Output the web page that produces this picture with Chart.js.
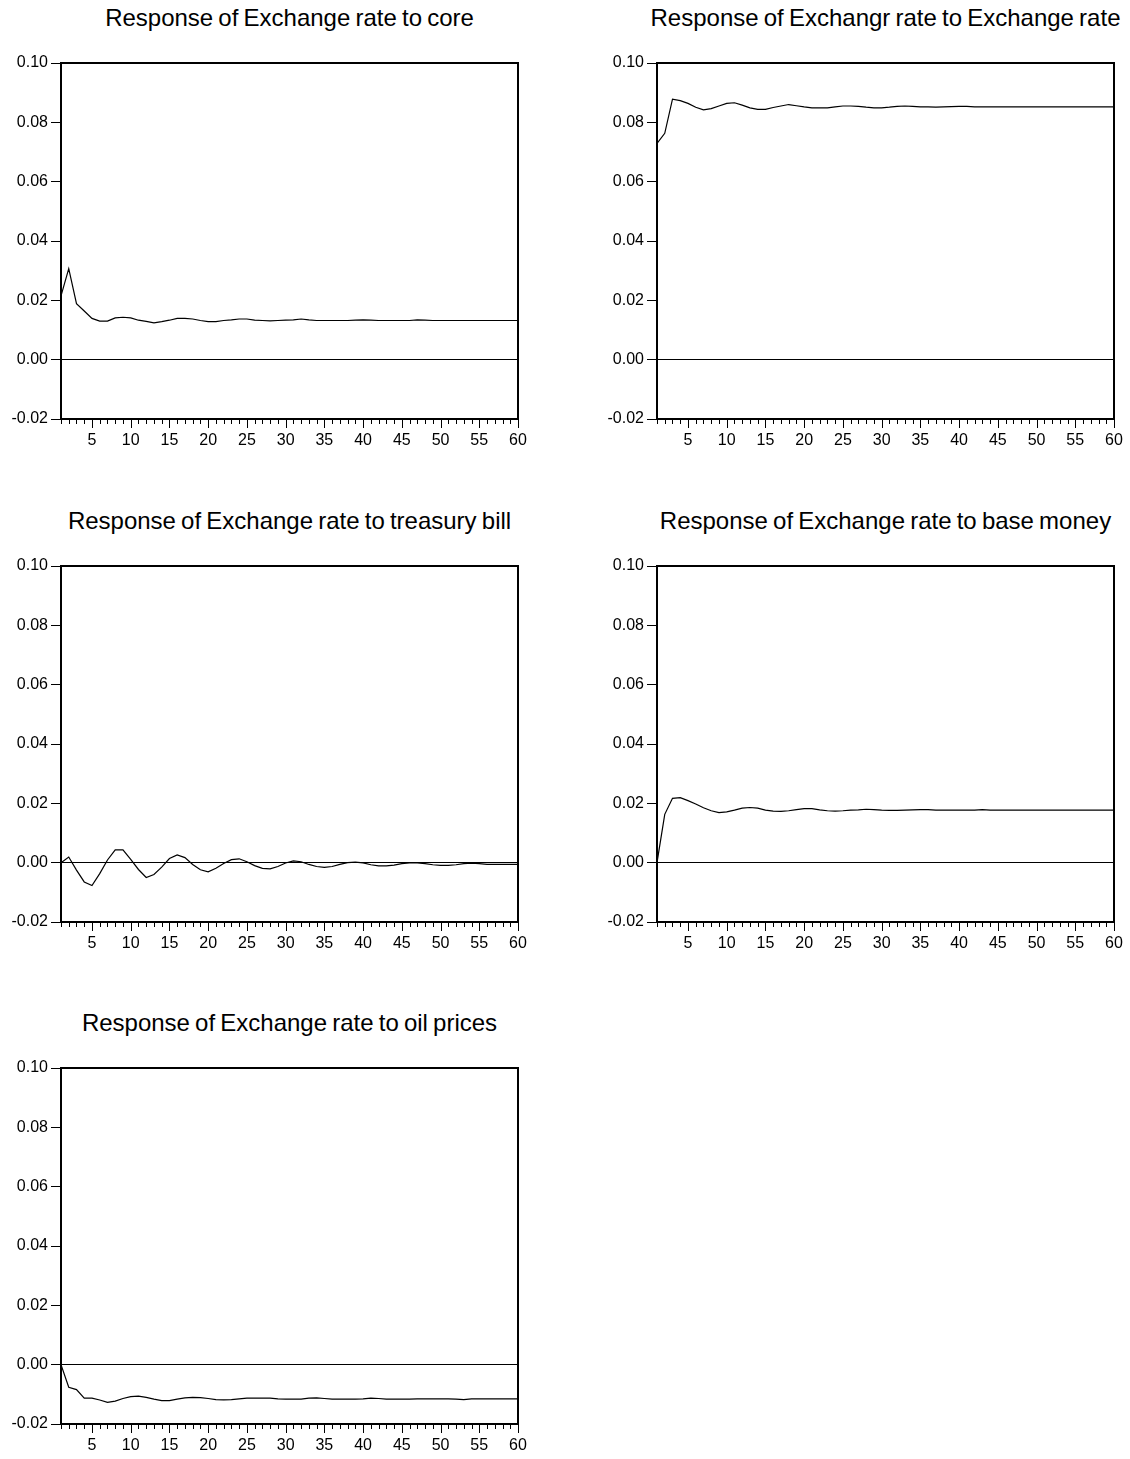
<!DOCTYPE html>
<html>
<head>
<meta charset="utf-8">
<script src="https://cdn.jsdelivr.net/npm/chart.js@4.4.1/dist/chart.umd.min.js"></script>
<style>
  body { margin: 0; background: #fff; width: 1130px; height: 1459px; position: relative; overflow: hidden;
         font-family: "Liberation Sans", Arial, sans-serif; }
  .panel-title { position: absolute; font-size: 24px; line-height: 24px; white-space: nowrap;
                 text-align: center; color: #000; word-spacing: -1.5px; }
  canvas { position: absolute; }
</style>
</head>
<body>
<script>
// Impulse responses of the exchange rate, periods 1..60
const periods = [1, 2, 3, 4, 5, 6, 7, 8, 9, 10, 11, 12, 13, 14, 15, 16, 17, 18, 19, 20,
  21, 22, 23, 24, 25, 26, 27, 28, 29, 30, 31, 32, 33, 34, 35, 36, 37, 38, 39, 40,
  41, 42, 43, 44, 45, 46, 47, 48, 49, 50, 51, 52, 53, 54, 55, 56, 57, 58, 59, 60];
const yTicks = [-0.02, 0.00, 0.02, 0.04, 0.06, 0.08, 0.10];
const xLabelStep = 5;

const toCore = [0.0215, 0.0307, 0.0189, 0.0164, 0.0139, 0.0130, 0.0130, 0.0141, 0.0143, 0.0141,
  0.0133, 0.0129, 0.0124, 0.0128, 0.0133, 0.0139, 0.0139, 0.0137, 0.0132, 0.0128,
  0.0128, 0.0132, 0.0134, 0.0137, 0.0137, 0.0133, 0.0132, 0.0131, 0.0132, 0.0133,
  0.0134, 0.0137, 0.0134, 0.0132, 0.0132, 0.0132, 0.0132, 0.0132, 0.0133, 0.0134,
  0.0133, 0.0132, 0.0132, 0.0132, 0.0132, 0.0132, 0.0134, 0.0133, 0.0132, 0.0132,
  0.0132, 0.0132, 0.0132, 0.0132, 0.0132, 0.0132, 0.0132, 0.0132, 0.0132, 0.0132];

const toExchangeRate = [0.0729, 0.0763, 0.0878, 0.0873, 0.0864, 0.0851, 0.0842, 0.0846, 0.0855, 0.0864,
  0.0866, 0.0858, 0.0849, 0.0844, 0.0844, 0.0850, 0.0855, 0.0860, 0.0856, 0.0852,
  0.0849, 0.0849, 0.0849, 0.0852, 0.0855, 0.0855, 0.0854, 0.0851, 0.0849, 0.0849,
  0.0851, 0.0854, 0.0855, 0.0854, 0.0852, 0.0852, 0.0851, 0.0852, 0.0853, 0.0854,
  0.0854, 0.0852, 0.0852, 0.0852, 0.0852, 0.0852, 0.0852, 0.0852, 0.0852, 0.0852,
  0.0852, 0.0852, 0.0852, 0.0852, 0.0852, 0.0852, 0.0852, 0.0852, 0.0852, 0.0852];

const toTreasuryBill = [0.0000, 0.0019, -0.0025, -0.0065, -0.0077, -0.0037, 0.0009, 0.0043, 0.0043, 0.0011,
  -0.0023, -0.0050, -0.0040, -0.0015, 0.0014, 0.0026, 0.0017, -0.0006, -0.0024, -0.0031,
  -0.0019, -0.0003, 0.0010, 0.0013, 0.0003, -0.0010, -0.0019, -0.0021, -0.0013, -0.0001,
  0.0006, 0.0003, -0.0006, -0.0013, -0.0016, -0.0013, -0.0006, 0.0000, 0.0002, -0.0001,
  -0.0007, -0.0011, -0.0011, -0.0008, -0.0003, -0.0001, -0.0001, -0.0003, -0.0007, -0.0009,
  -0.0009, -0.0007, -0.0003, -0.0002, -0.0003, -0.0006, -0.0006, -0.0006, -0.0006, -0.0006];

const toBaseMoney = [0.0000, 0.0163, 0.0217, 0.0219, 0.0209, 0.0198, 0.0185, 0.0175, 0.0169, 0.0171,
  0.0177, 0.0184, 0.0186, 0.0184, 0.0177, 0.0174, 0.0173, 0.0175, 0.0179, 0.0182,
  0.0182, 0.0178, 0.0175, 0.0174, 0.0175, 0.0177, 0.0178, 0.0180, 0.0179, 0.0177,
  0.0176, 0.0176, 0.0177, 0.0178, 0.0179, 0.0179, 0.0177, 0.0177, 0.0177, 0.0177,
  0.0177, 0.0177, 0.0179, 0.0177, 0.0177, 0.0177, 0.0177, 0.0177, 0.0177, 0.0177,
  0.0177, 0.0177, 0.0177, 0.0177, 0.0177, 0.0177, 0.0177, 0.0177, 0.0177, 0.0177];

const toOilPrices = [0.0000, -0.0076, -0.0084, -0.0113, -0.0113, -0.0119, -0.0127, -0.0123, -0.0114, -0.0108,
  -0.0106, -0.0110, -0.0116, -0.0121, -0.0121, -0.0116, -0.0112, -0.0110, -0.0111, -0.0114,
  -0.0118, -0.0119, -0.0118, -0.0115, -0.0113, -0.0113, -0.0113, -0.0113, -0.0115, -0.0116,
  -0.0116, -0.0116, -0.0113, -0.0112, -0.0114, -0.0116, -0.0116, -0.0116, -0.0116, -0.0115,
  -0.0113, -0.0114, -0.0116, -0.0116, -0.0116, -0.0116, -0.0115, -0.0115, -0.0115, -0.0115,
  -0.0115, -0.0116, -0.0118, -0.0115, -0.0115, -0.0115, -0.0115, -0.0115, -0.0115, -0.0115];

// grid of panels: plot-area corner in page pixels
const PLOT_W = 457, PLOT_H = 356;
const AXIS_W = 61, AXIS_H = 40, PAD_TOP = 14, PAD_RIGHT = 26;
const panels = [
  { title: 'Response of Exchange rate to core', values: toCore, left: 61, top: 63 },
  { title: 'Response of Exchangr rate to Exchange rate', values: toExchangeRate, left: 657, top: 63 },
  { title: 'Response of Exchange rate to treasury bill', values: toTreasuryBill, left: 61, top: 566 },
  { title: 'Response of Exchange rate to base money', values: toBaseMoney, left: 657, top: 566 },
  { title: 'Response of Exchange rate to oil prices', values: toOilPrices, left: 61, top: 1068 }
];

const font = { family: '"Liberation Sans", Arial, sans-serif' };

// box around the plot plus the small period ticks under it
const framePlugin = {
  id: 'frame',
  afterDraw(chart) {
    const { ctx, chartArea: a } = chart;
    const x = chart.scales.x;
    ctx.save();
    ctx.strokeStyle = '#000';
    ctx.lineWidth = 1;
    ctx.beginPath();
    periods.forEach(p => {
      const px = Math.round(x.getPixelForValue(p)) + 0.5;
      ctx.moveTo(px, a.bottom);
      ctx.lineTo(px, a.bottom + (p % xLabelStep === 0 ? 9 : 5));
    });
    ctx.stroke();
    ctx.lineWidth = 2;
    ctx.strokeRect(a.left, a.top, a.right - a.left, a.bottom - a.top);
    ctx.restore();
  }
};

panels.forEach(p => {
  const title = document.createElement('div');
  title.className = 'panel-title';
  title.textContent = p.title;
  title.style.left = (p.left - 60) + 'px';
  title.style.width = (PLOT_W + 120) + 'px';
  title.style.top = (p.top - 57) + 'px';
  document.body.appendChild(title);

  const canvas = document.createElement('canvas');
  const w = AXIS_W + PLOT_W + PAD_RIGHT, h = PAD_TOP + PLOT_H + AXIS_H;
  canvas.width = w;
  canvas.height = h;
  canvas.style.width = w + 'px';
  canvas.style.height = h + 'px';
  canvas.style.left = (p.left - AXIS_W) + 'px';
  canvas.style.top = (p.top - PAD_TOP) + 'px';
  document.body.appendChild(canvas);

  new Chart(canvas, {
    type: 'line',
    data: {
      datasets: [{
        data: periods.map((t, i) => ({ x: t, y: p.values[i] })),
        borderColor: '#000',
        borderWidth: 1.2,
        pointRadius: 0,
        tension: 0,
        fill: false
      }]
    },
    options: {
      responsive: false,
      animation: false,
      layout: { padding: { top: PAD_TOP, right: PAD_RIGHT, left: 0, bottom: 0 } },
      plugins: { legend: { display: false }, tooltip: { enabled: false } },
      scales: {
        x: {
          type: 'linear',
          min: 1,
          max: 60,
          afterFit: s => { s.height = AXIS_H; },
          afterBuildTicks: s => {
            s.ticks = periods.filter(t => t % xLabelStep === 0).map(v => ({ value: v }));
          },
          grid: { display: false, drawTicks: false },
          border: { display: false },
          ticks: {
            color: '#000',
            font: { ...font, size: 16 },
            padding: 12,
            maxRotation: 0,
            autoSkip: false,
            callback: v => String(v)
          }
        },
        y: {
          min: -0.02,
          max: 0.10,
          afterFit: s => { s.width = AXIS_W; },
          afterBuildTicks: s => { s.ticks = yTicks.map(v => ({ value: v })); },
          grid: {
            drawOnChartArea: true,
            color: c => (c.tick && c.tick.value === 0 ? '#000' : 'rgba(0,0,0,0)'),
            tickColor: '#000',
            tickLength: 10,
            lineWidth: 1
          },
          border: { display: false },
          ticks: {
            color: '#000',
            font: { ...font, size: 16 },
            padding: 3,
            callback: v => v.toFixed(2)
          }
        }
      }
    },
    plugins: [framePlugin]
  });
});
</script>
</body>
</html>
